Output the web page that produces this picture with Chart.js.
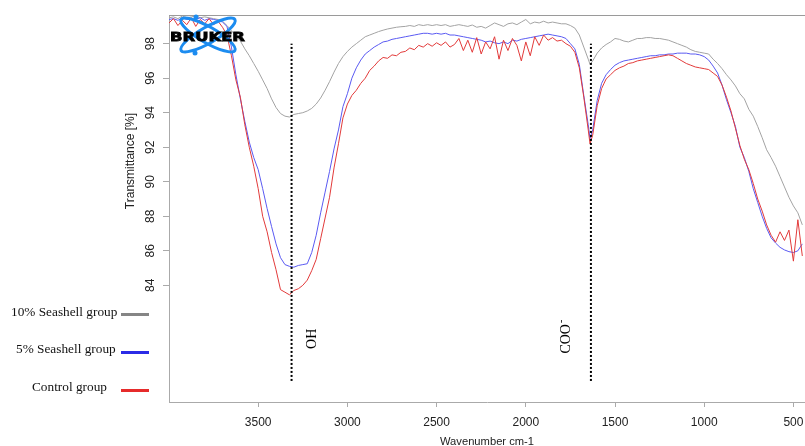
<!DOCTYPE html>
<html>
<head>
<meta charset="utf-8">
<script src="https://cdn.jsdelivr.net/npm/chart.js@4.4.0/dist/chart.umd.min.js"></script>
<style>
  html, body { margin: 0; padding: 0; background: #fff; }
  #wrap { position: relative; width: 805px; height: 446px; overflow: hidden; }
  #myChart { position: absolute; left: 0; top: 0; }
  .leg { position: absolute; font: 13.3px "Liberation Serif", "Times New Roman", serif; color: #111; white-space: nowrap; line-height: 16px; }
  .sw { position: absolute; left: 121px; width: 28px; height: 3px; }
</style>
</head>
<body>
<div id="wrap">
  <canvas id="myChart" width="805" height="446"></canvas>
  <div class="leg" style="left:11px;top:304px">10% Seashell group</div>
  <div class="sw" style="top:313px;background:#858585"></div>
  <div class="leg" style="left:16px;top:341px">5% Seashell group</div>
  <div class="sw" style="top:351px;background:#2b2be6"></div>
  <div class="leg" style="left:32px;top:379px">Control group</div>
  <div class="sw" style="top:389px;background:#e62b2b"></div>
</div>
<script>
// wavenumbers (cm-1), shared by all three spectra
const wavenumbers = [
  4000, 3975, 3950, 3925, 3900, 3875, 3850, 3825, 3800, 3775,
  3750, 3725, 3700, 3675, 3650, 3625, 3600, 3575, 3550, 3525,
  3500, 3475, 3450, 3425, 3400, 3375, 3350, 3325, 3300, 3275,
  3250, 3225, 3200, 3175, 3150, 3125, 3100, 3075, 3050, 3025,
  3000, 2975, 2950, 2925, 2900, 2875, 2850, 2825, 2800, 2775,
  2750, 2725, 2700, 2675, 2650, 2625, 2600, 2575, 2550, 2525,
  2500, 2475, 2450, 2425, 2400, 2375, 2350, 2325, 2300, 2275,
  2250, 2225, 2200, 2175, 2150, 2125, 2100, 2075, 2050, 2025,
  2000, 1975, 1950, 1925, 1900, 1875, 1850, 1825, 1800, 1775,
  1750, 1725, 1700, 1675, 1650, 1640, 1625, 1600, 1575, 1550,
  1525, 1500, 1475, 1450, 1425, 1400, 1375, 1350, 1325, 1300,
  1275, 1250, 1225, 1200, 1175, 1150, 1125, 1100, 1075, 1050,
  1025, 1000, 975, 950, 925, 900, 875, 850, 825, 800,
  775, 750, 725, 700, 675, 650, 625, 600, 575, 550,
  525, 500, 475, 450
];

// transmittance [%]
const seashell10 = [
  99.5, 99.55, 99.45, 99.6, 99.5, 99.55, 99.6, 99.5, 99.55, 99.5,
  99.45, 99.4, 99.3, 99.05, 98.75, 98.45, 98.15, 97.7, 97.3, 96.85,
  96.4, 95.9, 95.4, 94.8, 94.3, 93.95, 93.8, 93.75, 93.9, 93.95,
  94.0, 94.1, 94.25, 94.5, 94.85, 95.3, 95.8, 96.35, 96.85, 97.25,
  97.55, 97.8, 98.0, 98.2, 98.4, 98.5, 98.6, 98.7, 98.78, 98.85,
  98.9, 98.95, 98.98, 99.0, 99.05, 99.0, 99.1, 99.05, 99.1, 99.05,
  99.1, 99.05, 99.1, 99.0, 99.05, 99.1, 99.05, 99.0, 99.08, 98.95,
  99.0, 98.9, 99.05, 99.2, 99.1, 99.0, 99.15, 99.2, 99.1, 99.25,
  99.4, 99.15, 99.25, 99.2, 99.3, 99.2, 99.25, 99.2, 99.15, 99.15,
  99.05, 98.9, 98.5, 97.8, 97.1, 96.8, 97.0, 97.45, 97.75, 97.95,
  98.1, 98.3, 98.25, 98.15, 98.1, 98.2, 98.3, 98.3, 98.35, 98.35,
  98.3, 98.3, 98.25, 98.2, 98.1, 98.0, 97.9, 97.8, 97.65, 97.55,
  97.5, 97.45, 97.4, 97.1, 96.85, 96.55, 96.2, 95.9, 95.55, 95.1,
  94.8, 94.2, 93.8, 93.2, 92.55, 91.85, 91.4, 90.9, 90.3, 89.7,
  89.1, 88.6, 88.2, 87.5
];

const seashell5 = [
  99.4, 99.45, 99.35, 99.5, 99.4, 99.45, 99.4, 99.5, 99.35, 99.45,
  99.4, 99.35, 99.25, 99.0, 97.8, 96.2, 94.8, 93.5, 92.3, 91.4,
  90.7, 89.6, 88.45, 87.4, 86.4, 85.6, 85.2, 85.1, 85.05, 85.15,
  85.2, 85.25, 85.9, 86.9, 88.2, 89.4, 90.6, 91.9, 93.0, 94.35,
  95.1, 96.0, 96.6, 97.05, 97.4, 97.6, 97.8, 97.95, 98.1, 98.15,
  98.25, 98.3, 98.35, 98.4, 98.45, 98.5, 98.55, 98.6, 98.6, 98.55,
  98.6, 98.55, 98.6, 98.5, 98.5, 98.45, 98.4, 98.35, 98.3, 98.25,
  98.2, 98.1, 98.15, 98.05, 98.0, 98.1, 98.0, 98.2, 98.15, 98.25,
  98.3, 98.35, 98.4, 98.45, 98.5, 98.55, 98.5, 98.45, 98.4, 98.3,
  98.0, 97.7, 96.8, 95.0, 93.3, 92.5, 93.0, 94.7, 95.7, 96.2,
  96.5, 96.75, 96.9, 97.0, 97.05, 97.1, 97.15, 97.2, 97.25, 97.3,
  97.3, 97.35, 97.35, 97.4, 97.4, 97.45, 97.45, 97.45, 97.4, 97.4,
  97.35, 97.25, 97.05, 96.7, 96.3, 95.6, 94.75, 94.0, 93.2, 92.0,
  91.4, 90.6, 89.6, 88.8, 88.0, 87.3, 86.75, 86.45, 86.2, 86.05,
  85.95, 85.9, 86.0, 86.4
];

const control = [
  99.2, 99.45, 99.05, 99.35, 99.1, 99.5, 99.0, 99.4, 99.15, 99.45,
  99.1, 99.3, 98.95, 98.5, 97.3, 95.9, 94.9, 93.3, 92.0, 90.9,
  89.6, 88.0, 87.1, 85.9, 84.9, 83.75, 83.6, 83.45, 83.7, 83.8,
  84.0, 84.3, 84.85, 85.5, 86.7, 87.9, 89.1, 90.8, 92.2, 93.7,
  94.5, 95.0, 95.3, 95.7, 96.0, 96.45, 96.7, 97.0, 97.2, 97.15,
  97.35, 97.3, 97.5, 97.55, 97.75, 97.65, 97.9, 97.8, 98.0, 97.85,
  98.05, 97.9, 98.1, 97.8, 97.95, 98.3, 97.6, 98.2, 97.5, 98.35,
  97.4, 98.1, 97.7, 98.4, 97.1, 98.2, 97.6, 98.3, 97.9, 97.0,
  98.1, 97.3, 98.4, 97.9, 98.5, 98.2, 98.35, 98.15, 98.2, 98.0,
  97.85, 97.5, 96.6, 94.9, 93.0, 92.2, 92.7, 94.4, 95.4, 95.95,
  96.2, 96.45, 96.6, 96.7, 96.85, 96.9, 97.0, 97.05, 97.1, 97.15,
  97.2, 97.25, 97.3, 97.35, 97.3, 97.15, 97.0, 96.85, 96.75, 96.65,
  96.6, 96.55, 96.5, 96.3, 96.1, 95.6, 94.9, 94.1, 93.1, 92.1,
  91.3, 90.7, 89.9, 89.0, 88.3, 87.5, 86.9, 86.5, 87.1, 86.6,
  87.2, 85.4, 87.8, 85.7
];

// band markers (dotted lines)
const markerWavenumbers = [3313, 1635];
const markerLabels = ['OH', 'COO'];
const markerRange = [78.46, 98.0];

const xTicks = [3500, 3000, 2500, 2000, 1500, 1000, 500];
const yTicks = [84, 86, 88, 90, 92, 94, 96, 98];

const toPoints = vals => wavenumbers.map((w, i) => ({ x: w, y: vals[i] }));

const sansFont = '"Liberation Sans", Arial, sans-serif';
const serifFont = '"Liberation Serif", "Times New Roman", serif';

const markerSets = markerWavenumbers.map(w => ({
  data: markerRange.map(v => ({ x: w, y: v })),
  borderColor: '#000',
  borderWidth: 2,
  borderDash: [2, 2],
  pointRadius: 0,
  order: 0
}));

const decorations = {
  id: 'decorations',
  afterDraw(chart) {
    const { ctx, chartArea, scales: { x, y } } = chart;
    ctx.save();

    // top frame line
    ctx.strokeStyle = '#9a9a9a';
    ctx.lineWidth = 1;
    ctx.beginPath();
    ctx.moveTo(chartArea.left, chartArea.top + 0.5);
    ctx.lineTo(chartArea.right, chartArea.top + 0.5);
    ctx.stroke();

    // rotated y tick labels
    ctx.fillStyle = '#222';
    ctx.font = '12px ' + sansFont;
    ctx.textAlign = 'center';
    ctx.textBaseline = 'alphabetic';
    y.ticks.forEach(t => {
      ctx.save();
      ctx.translate(chartArea.left - 15, y.getPixelForValue(t.value));
      ctx.rotate(-Math.PI / 2);
      ctx.fillText(String(t.value), 0, 0);
      ctx.restore();
    });

    // y title
    ctx.save();
    ctx.translate(134, 161);
    ctx.rotate(-Math.PI / 2);
    ctx.fillText('Transmittance [%]', 0, 0);
    ctx.restore();

    // band labels
    ctx.font = '14px ' + serifFont;
    ctx.fillStyle = '#000';
    const offsets = [24, -21];
    markerWavenumbers.forEach((w, i) => {
      const px = x.getPixelForValue(w) + offsets[i];
      const py = y.getPixelForValue(80.9);
      ctx.save();
      ctx.translate(px, py);
      ctx.rotate(-Math.PI / 2);
      ctx.textAlign = 'center';
      ctx.fillText(markerLabels[i], 0, 0);
      if (i === 1) {
        const wd = ctx.measureText(markerLabels[i]).width;
        ctx.font = '10px ' + serifFont;
        ctx.textAlign = 'left';
        ctx.fillText('-', wd / 2 + 1, -6);
      }
      ctx.restore();
    });

    // Bruker logo
    ctx.strokeStyle = '#1c8cf0';
    ctx.fillStyle = '#1c8cf0';
    ctx.lineWidth = 3;
    [0.52, -0.52].forEach(a => {
      ctx.beginPath();
      ctx.ellipse(208, 35, 31, 8, a, 0, Math.PI * 2);
      ctx.stroke();
    });
    ctx.beginPath(); ctx.arc(195, 53, 2.5, 0, Math.PI * 2); ctx.fill();
    ctx.beginPath(); ctx.arc(196, 17, 2.5, 0, Math.PI * 2); ctx.fill();
    ctx.fillStyle = '#000';
    ctx.font = 'bold 13px "DejaVu Sans", sans-serif';
    ctx.textAlign = 'left';
    const bw = ctx.measureText('BRUKER').width;
    ctx.translate(170, 40.5);
    ctx.scale(75 / bw, 1);
    ctx.lineWidth = 0.8;
    ctx.strokeStyle = '#000';
    ctx.fillText('BRUKER', 0, 0);
    ctx.strokeText('BRUKER', 0, 0);

    ctx.restore();
  }
};

new Chart(document.getElementById('myChart'), {
  type: 'line',
  data: {
    datasets: [
      { label: 'Control group', data: toPoints(control), borderColor: '#e23a3a', order: 1 },
      { label: '5% Seashell group', data: toPoints(seashell5), borderColor: '#5a5af2', order: 2 },
      { label: '10% Seashell group', data: toPoints(seashell10), borderColor: '#a3a3a3', order: 3 },
      ...markerSets
    ]
  },
  options: {
    responsive: false,
    animation: false,
    datasets: { line: { borderWidth: 1, pointRadius: 0, tension: 0 } },
    layout: { padding: { left: 149, top: 15, right: 0, bottom: 0 } },
    plugins: { legend: { display: false }, tooltip: { enabled: false } },
    scales: {
      x: {
        type: 'linear',
        reverse: true,
        min: 435,
        max: 4000,
        afterBuildTicks: s => { s.ticks = xTicks.map(v => ({ value: v })); },
        afterFit: s => { s.height = 44; s.paddingLeft = 0; s.paddingRight = 0; },
        grid: { display: true, drawOnChartArea: false, drawTicks: true, tickLength: 5, color: '#aaa' },
        border: { display: true, color: '#aaa' },
        ticks: { color: '#222', font: { family: sansFont, size: 12 }, padding: 8, maxRotation: 0, autoSkip: false, callback: v => String(v) },
        title: { display: true, text: 'Wavenumber cm-1', color: '#222', font: { family: sansFont, size: 11.2, lineHeight: 0.8 }, padding: 0 }
      },
      y: {
        min: 77.24,
        max: 99.66,
        afterBuildTicks: s => { s.ticks = yTicks.map(v => ({ value: v })); },
        afterFit: s => { s.width = 20; s.paddingTop = 0; s.paddingBottom = 0; },
        grid: { display: true, drawOnChartArea: false, drawTicks: true, tickLength: 6, color: '#aaa' },
        border: { display: true, color: '#aaa' },
        ticks: { display: false }
      }
    }
  },
  plugins: [decorations]
});
</script>
</body>
</html>
